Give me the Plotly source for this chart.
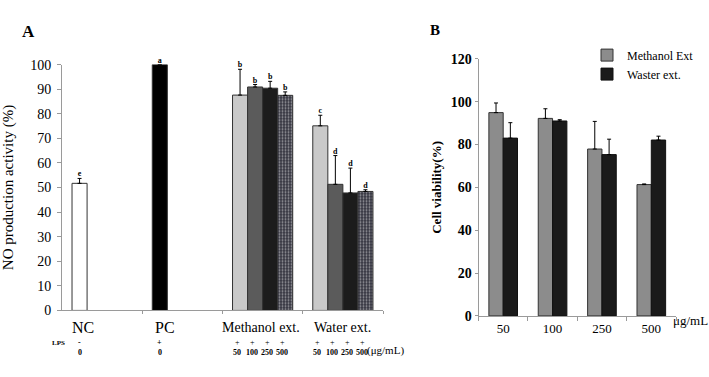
import plotly.graph_objects as go

W, H = 709, 377
SERIF = "Liberation Serif"

# ---------------- Panel A data (NO production activity, %) ----------------
groups_A = ["NC", "PC", "Methanol ext.", "Water ext."]
lps_marks = ["-", "+", "+", "+"]
conc_labels = ["50", "100", "250", "500"]
control_values = [51.7, 100.0]
control_errors = [2.0, 0.0]
control_letters = ["e", "a"]
control_doses = ["0", "0"]
methanol_no = [87.6, 90.9, 90.4, 87.5]
methanol_no_err = [10.5, 1.0, 2.8, 1.4]
methanol_letters = ["b", "b", "b", "b"]
water_no = [75.1, 51.3, 47.8, 48.4]
water_no_err = [4.3, 11.7, 10.1, 0.7]
water_letters = ["c", "d", "d", "d"]
y_ticks_A = [0, 10, 20, 30, 40, 50, 60, 70, 80, 90, 100]

# ---------------- Panel B data (Cell viability, %) ----------------
doses_B = ["50", "100", "250", "500"]
methanol_viab = [94.9, 92.2, 77.9, 61.3]
methanol_viab_err = [4.5, 4.5, 12.9, 0.3]
water_viab = [83.0, 91.0, 75.3, 82.1]
water_viab_err = [7.2, 0.6, 7.2, 1.8]
y_ticks_B = [0, 20, 40, 60, 80, 100, 120]

# ---------------- styles ----------------
bar_w = 0.1875
slot_colors = ["#c9c9c9", "#5b5b5b", "#1c1c1c", "#34343f"]
first_slot_colors = ["#ffffff", "#000000", slot_colors[0], slot_colors[0]]
outline = "#333333"
BLACK = "#000000"

def slot_x(group_idx, slot):
    return group_idx + (slot - 1.5) * bar_w

fig = go.Figure()

for slot in range(4):
    if slot == 0:
        gidx = [0, 1, 2, 3]
        vals = control_values + [methanol_no[0], water_no[0]]
        errs = control_errors + [methanol_no_err[0], water_no_err[0]]
        lets = control_letters + [methanol_letters[0], water_letters[0]]
        colors = first_slot_colors
    else:
        gidx = [2, 3]
        vals = [methanol_no[slot], water_no[slot]]
        errs = [methanol_no_err[slot], water_no_err[slot]]
        lets = [methanol_letters[slot], water_letters[slot]]
        colors = [slot_colors[slot]] * 2
    xs = [slot_x(g, slot) for g in gidx]
    marker = dict(color=colors, line=dict(color=outline, width=1))
    if slot == 3:
        marker["pattern"] = dict(shape=".", fgcolor="#c4c4cc", fillmode="overlay",
                                 size=3, solidity=0.35)
    fig.add_trace(go.Bar(
        x=xs, y=vals, width=bar_w, offset=-bar_w / 2, marker=marker,
        error_y=dict(type="data", array=errs, arrayminus=[0] * len(errs),
                     symmetric=False, color=BLACK, thickness=1, width=2),
        xaxis="x", yaxis="y", showlegend=False, hoverinfo="skip"))
    fig.add_trace(go.Scatter(
        x=xs, y=[v + e for v, e in zip(vals, errs)],
        text=["<b>" + t + "</b>" for t in lets], mode="text",
        textposition="top center", cliponaxis=False,
        textfont=dict(family=SERIF, size=8, color=BLACK),
        xaxis="x", yaxis="y", showlegend=False, hoverinfo="skip"))

# ---------------- Panel B bars ----------------
fig.add_trace(go.Bar(
    x=doses_B, y=methanol_viab, name="Methanol Ext",
    marker=dict(color="#8c8c8c", line=dict(color="#333333", width=1)),
    error_y=dict(type="data", array=methanol_viab_err, arrayminus=[0] * 4,
                 symmetric=False, color=BLACK, thickness=1, width=2),
    xaxis="x2", yaxis="y2"))
fig.add_trace(go.Bar(
    x=doses_B, y=water_viab, name="Waster ext.",
    marker=dict(color="#1a1a1a", line=dict(color="#111111", width=1)),
    error_y=dict(type="data", array=water_viab_err, arrayminus=[0] * 4,
                 symmetric=False, color=BLACK, thickness=1, width=2),
    xaxis="x2", yaxis="y2"))

# ---------------- annotations ----------------
ann = []
def pad(py):
    return (H - py) / H

label_x = [slot_x(0, 0), slot_x(1, 0), 2, 3]
label_sizes = [16, 16, 14, 14]
label_shift = [3, 5, -2, 0]
for g, lx, fs, sh in zip(groups_A, label_x, label_sizes, label_shift):
    ann.append(dict(x=lx, y=pad(334), xref="x", yref="paper", text=g, xshift=sh,
                    showarrow=False, font=dict(family=SERIF, size=fs, color=BLACK),
                    xanchor="center", yanchor="middle", borderpad=0))
ann.append(dict(x=51 / W, y=pad(355), xref="paper", yref="paper", text="<b>LPS</b>",
                showarrow=False, borderpad=0,
                font=dict(family=SERIF, size=7, color=BLACK)))
for gi in range(2):
    ann.append(dict(x=slot_x(gi, 0), y=pad(355), xref="x", yref="paper",
                    text="<b>" + lps_marks[gi] + "</b>", showarrow=False, borderpad=0,
                    font=dict(family=SERIF, size=8, color=BLACK)))
    ann.append(dict(x=slot_x(gi, 0), y=pad(366), xref="x", yref="paper",
                    text="<b>" + control_doses[gi] + "</b>", showarrow=False, borderpad=0,
                    font=dict(family=SERIF, size=8, color=BLACK)))
for gi in [2, 3]:
    for s in range(4):
        ann.append(dict(x=slot_x(gi, s), y=pad(355), xref="x", yref="paper",
                        text=lps_marks[gi], showarrow=False, xshift=-3, borderpad=0,
                        font=dict(family=SERIF, size=8, color=BLACK)))
        ann.append(dict(x=slot_x(gi, s), y=pad(366), xref="x", yref="paper",
                        text="<b>" + conc_labels[s] + "</b>", showarrow=False, xshift=-3,
                        borderpad=0, font=dict(family=SERIF, size=8, color=BLACK)))
ann.append(dict(x=slot_x(3, 3), y=pad(366), xref="x", yref="paper", xshift=1,
                text="(μg/mL)", showarrow=False, xanchor="left", borderpad=0,
                font=dict(family=SERIF, size=11, color=BLACK)))
ann.append(dict(x=672 / W, y=pad(335), xref="paper", yref="paper", text="μg/mL",
                showarrow=False, xanchor="left", borderpad=0,
                font=dict(family=SERIF, size=13, color=BLACK)))
ann.append(dict(x=20 / W, y=pad(14), xref="paper", yref="paper", text="<b>A</b>",
                showarrow=False, font=dict(family=SERIF, size=17, color=BLACK)))
ann.append(dict(x=435 / W, y=pad(14), xref="paper", yref="paper", text="<b>B</b>",
                showarrow=False, font=dict(family=SERIF, size=15, color=BLACK)))

axis_col = "#9a9a9a"
fig.update_layout(
    width=W, height=H, margin=dict(l=0, r=0, t=0, b=0),
    paper_bgcolor="white", plot_bgcolor="white",
    barmode="group", bargap=0.42, bargroupgap=0,
    font=dict(family=SERIF, color=BLACK),
    xaxis=dict(domain=[62 / W, 383 / W], range=[-0.5, 3.5], showgrid=False,
               zeroline=False, showline=True, linecolor=axis_col, linewidth=1,
               tickmode="array", tickvals=[0.5, 1.5, 2.5, 3.5], ticktext=["", "", "", ""],
               ticks="outside", ticklen=3, tickcolor=axis_col),
    yaxis=dict(domain=[pad(316), pad(60)], range=[0, 100], tickvals=y_ticks_A,
               showgrid=False, zeroline=False, showline=True, linecolor=axis_col,
               ticks="outside", ticklen=4, tickcolor=axis_col, ticklabelstandoff=3,
               tickfont=dict(family=SERIF, size=14, color=BLACK),
               title=dict(text="NO production activity (%)", standoff=12,
                          font=dict(family=SERIF, size=15, color=BLACK))),
    xaxis2=dict(domain=[478.5 / W, 676 / W], anchor="y2", type="category",
                showgrid=False, zeroline=False, showline=True, linecolor=axis_col,
                tickson="boundaries", ticks="outside", ticklen=4, tickcolor=axis_col,
                tickfont=dict(family=SERIF, size=13, color=BLACK)),
    yaxis2=dict(domain=[pad(321.7), pad(54)], anchor="x2", range=[0, 120],
                tickvals=y_ticks_B, showgrid=False, zeroline=False, showline=True,
                linecolor=axis_col, ticks="outside", ticklen=3, tickcolor=axis_col,
                tickfont=dict(family=SERIF, size=14, color=BLACK, weight="bold"),
                title=dict(text="<b>Cell viability(%)</b>", standoff=6,
                           font=dict(family=SERIF, size=13, color=BLACK))),
    legend=dict(x=587 / W, y=pad(35), xanchor="left", yanchor="top",
                font=dict(family=SERIF, size=12, color=BLACK),
                bgcolor="rgba(0,0,0,0)", itemclick=False, tracegroupgap=0),
    annotations=ann,
)

fig.write_html("out.html", config={"displayModeBar": False},
               post_script="document.body.style.margin='0px';")
